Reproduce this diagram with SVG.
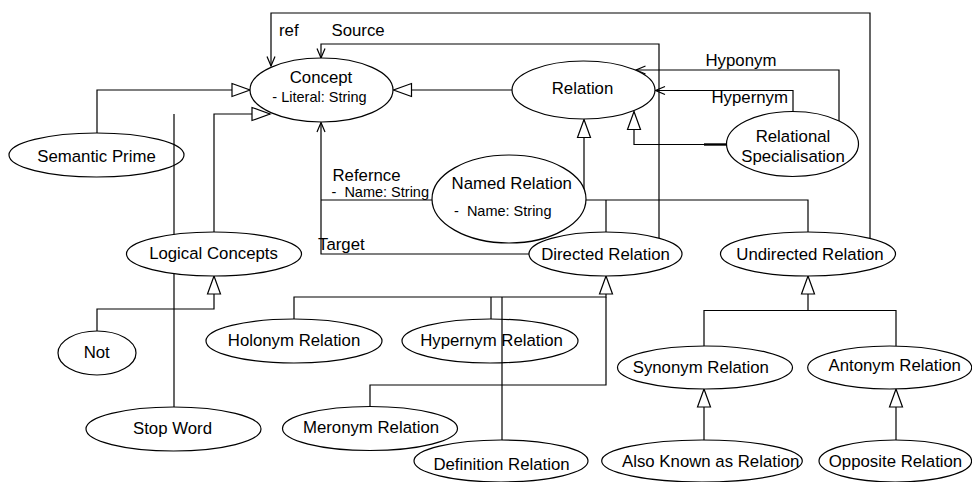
<svg xmlns="http://www.w3.org/2000/svg" width="972" height="482" viewBox="0 0 972 482">
<style>
.n ellipse{fill:#fff;stroke:#000;stroke-width:1.2}
text{font-family:"Liberation Sans",Arial,Helvetica,sans-serif;font-size:16.8px;fill:#000}
.c{text-anchor:middle}
.s{font-size:14.5px}
#edges path{fill:none;stroke:#000;stroke-width:1.2}
</style>
<defs>
<marker id="tri" markerWidth="22" markerHeight="16" refX="19" refY="7" orient="auto" markerUnits="userSpaceOnUse" overflow="visible"><path d="M1,0.5 L19,7 L1,13.5 z" fill="#fff" stroke="#000" stroke-width="1.2"/></marker>
<marker id="open" markerWidth="12" markerHeight="10" refX="10" refY="4.5" orient="auto" markerUnits="userSpaceOnUse" overflow="visible"><path d="M0.5,0.5 L10,4.5 L0.5,8.5" fill="none" stroke="#000" stroke-width="1.2"/></marker>
</defs>
<rect width="972" height="482" fill="#fff"/>
<g id="semantic-prime" class="n"><ellipse cx="96.5" cy="155" rx="87.5" ry="22"/><text class="c" x="96.5" y="161.5">Semantic Prime</text></g>
<g id="hypernym-relation" class="n"><ellipse cx="490" cy="341" rx="88" ry="22"/><text class="c" x="491.5" y="345.5">Hypernym Relation</text></g>
<g id="edges">
<path d="M870,238 L870,13 L271,13 L271,66" marker-end="url(#open)"/>
<path d="M659,238 L659,44 L321,44 L321,58" marker-end="url(#open)"/>
<path d="M839,121 L839,70 L636,70" marker-end="url(#open)"/>
<path d="M793,112 L793,90.5 L655.5,90.5" marker-end="url(#open)"/>
<path d="M529,254 L321,254 L321,122.5" marker-end="url(#open)"/>
<path d="M432,200 L321,200"/>
<path d="M727,144.5 L634,144.5 L634,111.5" marker-end="url(#tri)"/>
<path d="M704,144.5 L727,144.5" style="stroke-width:2.4"/>
<path d="M512,90 L393.5,90" marker-end="url(#tri)"/>
<path d="M97,133 L97,90 L250,90" marker-end="url(#tri)"/>
<path d="M214,232 L214,114 L270,114" marker-end="url(#tri)"/>
<path d="M174,407 L174,114"/>
<path d="M97,331 L97,309 L214,309 L214,276" marker-end="url(#tri)"/>
<path d="M808,232 L808,200 L584,200 L584,119.5" marker-end="url(#tri)"/>
<path d="M606,232 L606,200"/>
<path d="M585.5,200 L584,200"/>
<path d="M294,319 L294,297 L606,297 L606,276" marker-end="url(#tri)"/>
<path d="M491,319 L491,297"/>
<path d="M370,406.5 L370,385 L606,385 L606,297"/>
<path d="M502,440 L502,297"/>
<path d="M704,346 L704,310.5 L896,310.5 L896,346"/>
<path d="M808,310.5 L808,276" marker-end="url(#tri)"/>
<path d="M704,440 L704,389" marker-end="url(#tri)"/>
<path d="M896,440 L896,389" marker-end="url(#tri)"/>
<text x="279" y="36">ref</text>
<text x="331.5" y="36">Source</text>
<text x="705.5" y="66">Hyponym</text>
<text x="711.5" y="103">Hypernym</text>
<text x="332.5" y="180.5">Refernce</text>
<text class="s" x="331.5" y="196.5" xml:space="preserve">-  Name: String</text>
<text x="318" y="250">Target</text>
</g>
<g id="concept" class="n"><ellipse cx="321.5" cy="90" rx="71.5" ry="32"/><text class="c" x="321" y="83.3">Concept</text><text class="c s" x="319.5" y="102">- Literal: String</text></g>
<g id="relation" class="n"><ellipse cx="583.5" cy="90" rx="71.5" ry="29"/><text class="c" x="582.5" y="94.3">Relation</text></g>
<g id="relational-specialisation" class="n"><ellipse cx="792.5" cy="144" rx="66" ry="32.5"/><text class="c" x="793" y="141.5">Relational</text><text class="c" x="793" y="161.5">Specialisation</text></g>
<g id="named-relation" class="n"><ellipse cx="509" cy="199" rx="77" ry="44"/><text class="c" x="511.7" y="189.3">Named Relation</text><text class="s" x="454" y="216" xml:space="preserve">-  Name: String</text></g>
<g id="logical-concepts" class="n"><ellipse cx="214" cy="254" rx="87.5" ry="22"/><text class="c" x="213.5" y="258.7">Logical Concepts</text></g>
<g id="not" class="n"><ellipse cx="97" cy="353" rx="39" ry="22"/><text class="c" x="96.7" y="357.7">Not</text></g>
<g id="stop-word" class="n"><ellipse cx="173.5" cy="429" rx="87.5" ry="22"/><text class="c" x="172.5" y="434.3">Stop Word</text></g>
<g id="directed-relation" class="n"><ellipse cx="605.5" cy="254" rx="76.5" ry="22"/><text class="c" x="605.5" y="260">Directed Relation</text></g>
<g id="undirected-relation" class="n"><ellipse cx="808" cy="254" rx="87.5" ry="22"/><text class="c" x="810" y="260">Undirected Relation</text></g>
<g id="holonym-relation" class="n"><ellipse cx="294" cy="341" rx="88" ry="22"/><text class="c" x="294" y="345.5">Holonym Relation</text></g>
<g id="meronym-relation" class="n"><ellipse cx="370" cy="428.5" rx="87.5" ry="22"/><text class="c" x="371" y="432.5">Meronym Relation</text></g>
<g id="definition-relation" class="n"><ellipse cx="501" cy="461" rx="87" ry="21"/><text class="c" x="501.5" y="470">Definition Relation</text></g>
<g id="synonym-relation" class="n"><ellipse cx="705" cy="367.5" rx="87.5" ry="21.5"/><text class="c" x="700.8" y="372.7">Synonym Relation</text></g>
<g id="antonym-relation" class="n"><ellipse cx="889.7" cy="367.5" rx="82" ry="21.5"/><text class="c" x="894.7" y="371">Antonym Relation</text></g>
<g id="also-known-as-relation" class="n"><ellipse cx="702" cy="461" rx="100.3" ry="21"/><text class="c" x="710.7" y="466.7">Also Known as Relation</text></g>
<g id="opposite-relation" class="n"><ellipse cx="895.3" cy="461" rx="76.3" ry="21"/><text class="c" x="895.5" y="466.7">Opposite Relation</text></g>
</svg>
